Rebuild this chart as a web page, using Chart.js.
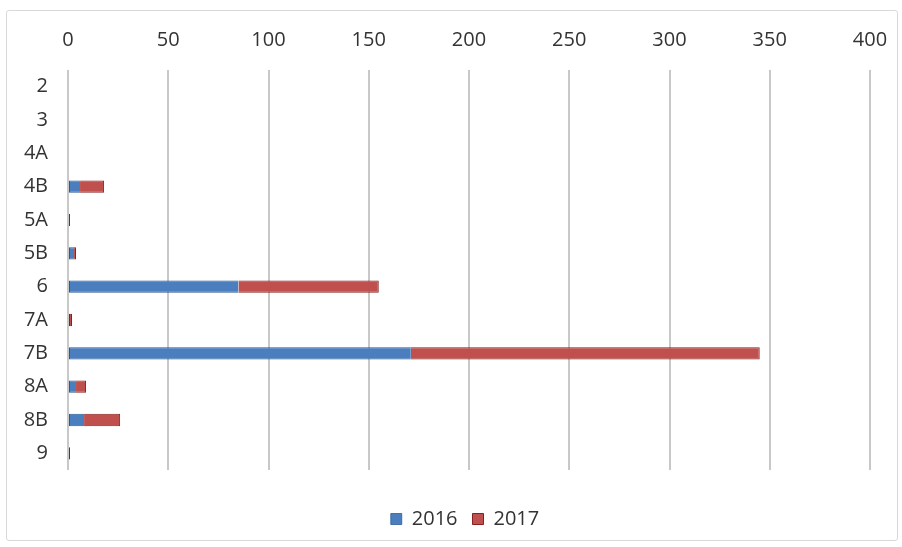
<!DOCTYPE html>
<html>
<head>
<meta charset="utf-8">
<script src="https://cdn.jsdelivr.net/npm/chart.js@4/dist/chart.umd.min.js"></script>
<style>
    html, body { margin: 0; padding: 0; background: #FFFFFF; overflow: hidden; }
    #frame {
        position: absolute; left: 6px; top: 10px; width: 890px; height: 529px;
        border: 1px solid #D9D9D9; border-radius: 3px;
    }
    #wrap { position: absolute; left: 0; top: 0; width: 902px; height: 547px; }
</style>
</head>
<body>
<div id="frame"></div>
<div id="wrap"><canvas id="barChart" width="902" height="547"></canvas></div>
<script>
// Catégories et valeurs
const categories = ['2', '3', '4A', '4B', '5A', '5B', '6', '7A', '7B', '8A', '8B', '9'];
const values2016 = [0, 0, 0, 6, 0, 3, 85, 0, 171, 4, 8, 0];
const values2017 = [0, 0, 0, 12, 1, 1, 70, 2, 174, 5, 18, 1];
const xTicks = [0, 50, 100, 150, 200, 250, 300, 350, 400];

const colors = {
    blue: '#4A7EBE',
    blueBorder: '#2A5A91',
    red: '#C0504D',
    redBorder: '#85211F',
    grid: '#C8C8C8',
    text: '#333333'
};

Chart.defaults.font.family = "'Open Sans', sans-serif";
Chart.defaults.font.size = 20;
Chart.defaults.color = colors.text;

// Décale la légende sous la zone du graphique
const legendShift = {
    id: 'legendShift',
    afterLayout(chart) {
        const l = chart.legend;
        if (!l) return;
        l.top += 24; l.bottom += 24;
        l.left += 4; l.right += 4;
    }
};

// Pas de bordure gauche sur 2017 quand un segment 2016 le précède
function redBorder(ctx) {
    if (values2016[ctx.dataIndex] > 0) {
        return { top: 1, bottom: 1, left: 0, right: 1 };
    }
    return 1;
}

new Chart(document.getElementById('barChart'), {
    type: 'bar',
    data: {
        labels: categories,
        datasets: [{
            label: '2016',
            data: values2016,
            backgroundColor: colors.blue,
            borderColor: colors.blueBorder,
            borderWidth: { top: 1, bottom: 1, left: 1, right: 0 },
            borderSkipped: false,
            barPercentage: 0.37,
            categoryPercentage: 1
        }, {
            label: '2017',
            data: values2017,
            backgroundColor: colors.red,
            borderColor: colors.redBorder,
            borderWidth: redBorder,
            borderSkipped: false,
            barPercentage: 0.37,
            categoryPercentage: 1
        }]
    },
    options: {
        indexAxis: 'y',
        responsive: false,
        animation: false,
        layout: { padding: { left: 20, right: 0, top: 20, bottom: 32 } },
        plugins: {
            legend: {
                position: 'bottom',
                labels: {
                    boxWidth: 11,
                    boxHeight: 11,
                    padding: 15,
                    color: colors.text
                }
            },
            tooltip: { enabled: false }
        },
        scales: {
            x: {
                position: 'top',
                stacked: true,
                min: 0,
                max: 400,
                afterBuildTicks(scale) {
                    scale.ticks = xTicks.map(v => ({ value: v }));
                },
                afterFit(scale) {
                    scale.height = 50;
                    scale.paddingRight = 32;
                },
                grid: { color: colors.grid, lineWidth: 2, drawTicks: false },
                border: { display: false },
                ticks: { padding: 18, color: colors.text }
            },
            y: {
                stacked: true,
                afterFit(scale) {
                    scale.width = 48;
                },
                grid: { display: false, drawTicks: false },
                border: { display: false },
                ticks: { padding: 20, color: colors.text }
            }
        }
    },
    plugins: [legendShift]
});
</script>
</body>
</html>
